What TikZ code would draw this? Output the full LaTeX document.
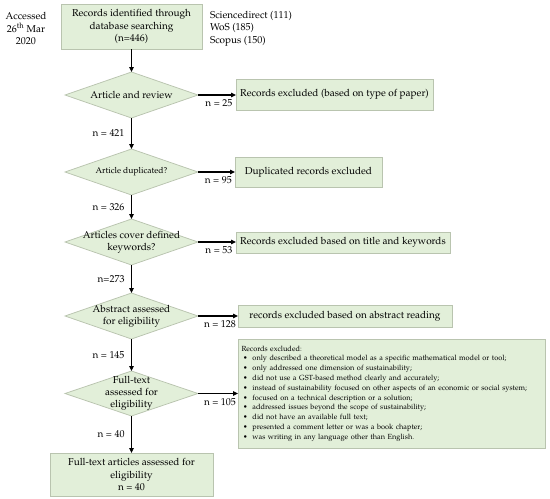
\documentclass[tikz,border=0pt]{standalone}
\usepackage[T1]{fontenc}
\usepackage{mathpazo}
\usetikzlibrary{shapes.geometric,arrows.meta}
\definecolor{boxfill}{RGB}{226,239,217}
\definecolor{boxline}{RGB}{185,196,175}
\begin{document}
\begin{tikzpicture}[x=1pt,y=1pt,
  every node/.style={inner sep=0pt, outer sep=0pt, font=\fontsize{10}{12.5}\selectfont},
  base/.style={draw=boxline, fill=boxfill, line width=0.75pt},
  dia/.style={base, diamond, minimum width=133pt, minimum height=46pt},
  rbox/.style={base, rectangle, anchor=west, align=center},
  arr/.style={line width=1.1pt, -{Triangle[length=5pt,width=4.5pt]}},
  hlab/.style={below=5pt, pos=0.55},
  vlab/.style={left=7pt},
  dtext/.style={align=center, font=\fontsize{10}{12}\selectfont},
]
\useasboundingbox (0,0) rectangle (550,-499);

% side texts
\node[align=center] (acc) at (26,-28.5) {Accessed\\26\textsuperscript{th} Mar\\2020};
\node[align=left, anchor=west] (db) at (210,-28.5) {Sciencedirect (111)\\WoS (185)\\Scopus (150)};

% main column
\node[base, minimum width=141pt, minimum height=45pt, align=center] (src) at (131.5,-26.5)
  {Records identified through\\database searching\\(n=446)};
\node[dia, label={[dtext]center:Article and review}] (d1) at (131.5,-95) {};
\node[dia, label={[dtext, font=\fontsize{8.5}{10}\selectfont]center:Article duplicated?}] (d2) at (131.5,-172) {};
\node[dia, label={[dtext]center:Articles cover defined\\keywords?}] (d3) at (131.5,-242) {};
\node[dia, label={[dtext]center:Abstract assessed\\for eligibility}] (d4) at (131.5,-316) {};
\node[dia, minimum height=45pt, label={[dtext]center:Full-text\\assessed for\\eligibility}] (d5) at (131.5,-393.5) {};
\node[base, minimum width=163pt, minimum height=43pt, align=center] (fin) at (131.5,-474.5)
  {Full-text articles assessed for\\eligibility\\n = 40};

% exclusion boxes
\node[rbox, minimum width=197pt, minimum height=31pt] (b1) at (236,-94.5) {Records excluded (based on type of paper)};
\node[rbox, minimum width=147pt, minimum height=30pt] (b2) at (235,-172) {Duplicated records excluded};
\node[rbox, minimum width=214pt, minimum height=21pt] (b3) at (236,-242.5) {Records excluded based on title and keywords};
\node[rbox, minimum width=214pt, minimum height=22pt] (b4) at (238,-316) {records excluded based on abstract reading};
\node[base, rectangle, anchor=west, minimum width=307pt, minimum height=109pt, text width=300pt, align=left,
      font=\fontsize{7.4}{9.8}\selectfont] (b5) at (238,-393.5)
  {Records excluded:\\
   \hspace*{1.5pt}\makebox[9.5pt][l]{\textbullet}only described a theoretical model as a specific mathematical model or tool;\\
   \hspace*{1.5pt}\makebox[9.5pt][l]{\textbullet}only addressed one dimension of sustainability;\\
   \hspace*{1.5pt}\makebox[9.5pt][l]{\textbullet}did not use a GST-based method clearly and accurately;\\
   \hspace*{1.5pt}\makebox[9.5pt][l]{\textbullet}instead of sustainability focused on other aspects of an economic or social system;\\
   \hspace*{1.5pt}\makebox[9.5pt][l]{\textbullet}focused on a technical description or a solution;\\
   \hspace*{1.5pt}\makebox[9.5pt][l]{\textbullet}addressed issues beyond the scope of sustainability;\\
   \hspace*{1.5pt}\makebox[9.5pt][l]{\textbullet}did not have an available full text;\\
   \hspace*{1.5pt}\makebox[9.5pt][l]{\textbullet}presented a comment letter or was a book chapter;\\
   \hspace*{1.5pt}\makebox[9.5pt][l]{\textbullet}was writing in any language other than English.};

% vertical connectors
\draw[arr] (src) -- (d1);
\draw[arr] (d1) -- node[vlab]{n = 421} (d2);
\draw[arr] (d2) -- node[vlab]{n = 326} (d3);
\draw[arr] (d3) -- node[vlab]{n=273} (d4);
\draw[arr] (d4) -- node[vlab]{n = 145} (d5);
\draw[arr] (d5) -- node[vlab]{n = 40} (fin);

% horizontal connectors
\draw[arr] (d1.east) -- node[hlab]{n = 25} (d1.east -| b1.west);
\draw[arr] (d2.east) -- node[hlab]{n = 95} (d2.east -| b2.west);
\draw[arr] (d3.east) -- node[hlab]{n = 53} (d3.east -| b3.west);
\draw[arr] (d4.east) -- node[hlab]{n = 128} (d4.east -| b4.west);
\draw[arr] (d5.east) -- node[hlab]{n = 105} (d5.east -| b5.west);
\end{tikzpicture}
\end{document}
